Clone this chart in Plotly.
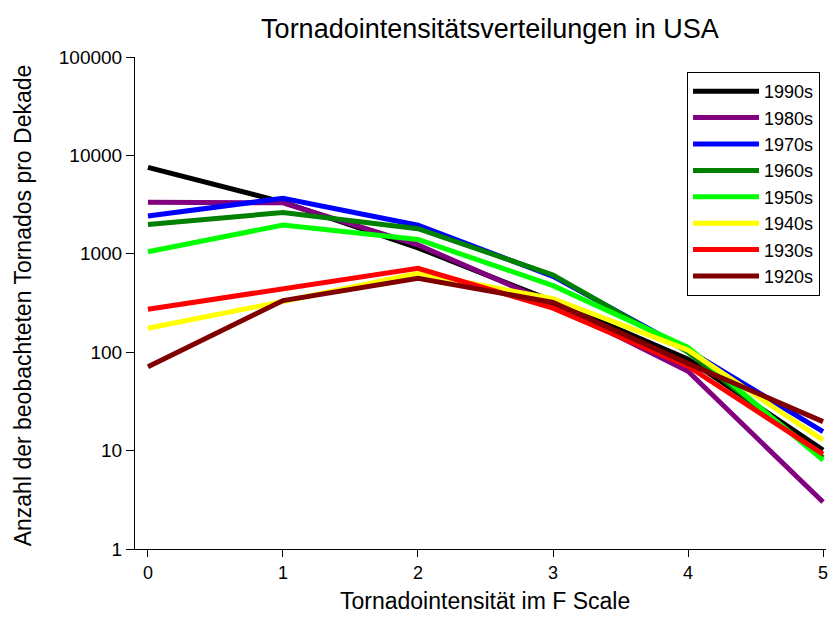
import plotly.graph_objects as go

intensity = [0, 1, 2, 3, 4, 5]
decades = ["1990s", "1980s", "1970s", "1960s", "1950s", "1940s", "1930s", "1920s"]
colors = ["#000000", "#800080", "#0000FF", "#008000", "#00FF00", "#FFFF00", "#FF0000", "#800000"]

v1990 = [7570, 3350, 1150, 330, 85, 10.1]
v1980 = [3340, 3300, 1230, 310, 64, 3.0]
v1970 = [2420, 3660, 1950, 590, 105, 15.6]
v1960 = [1980, 2630, 1800, 610, 100, 8.5]
v1950 = [1050, 1960, 1400, 475, 112, 8.0]
v1940 = [175, 328, 635, 350, 105, 12.8]
v1930 = [273, 446, 713, 280, 72, 9.2]
v1920 = [71, 335, 565, 320, 77, 19.7]

series = [v1990, v1980, v1970, v1960, v1950, v1940, v1930, v1920]

font = "Liberation Sans, Arial, sans-serif"

fig = go.Figure()
for name, col, vals in zip(decades, colors, series):
    fig.add_trace(go.Scatter(x=intensity, y=vals, mode="lines", name=name,
                             line=dict(color=col, width=5)))

fig.update_layout(
    width=828, height=628,
    margin=dict(l=135, r=0, t=57, b=79),
    plot_bgcolor="white", paper_bgcolor="white",
    font=dict(family=font, size=18, color="black"),
    title=dict(text="Tornadointensitätsverteilungen in USA", x=490/828, xref="container",
               xanchor="center", y=1 - 29/628, yanchor="middle",
               font=dict(size=27, family=font, color="black")),
    xaxis=dict(range=[-0.096, 5.022], tickvals=intensity, ticktext=[str(i) for i in intensity],
               showgrid=False, zeroline=False, showline=True, linecolor="black", linewidth=1,
               ticks="outside", ticklen=7, tickcolor="black", tickfont=dict(size=18),
               ticklabeloverflow="allow"),
    yaxis=dict(type="log", range=[0, 5], tickvals=[1, 10, 100, 1000, 10000, 100000],
               ticktext=["1", "10", "100", "1000", "10000", "100000"],
               showgrid=False, zeroline=False, showline=True, linecolor="black", linewidth=1,
               ticks="outside", ticklen=8, tickcolor="black", tickfont=dict(size=19)),
    legend=dict(x=(822 - 135) / 693, xanchor="right", y=(549 - 72) / 492, yanchor="top",
                bordercolor="black", borderwidth=1, bgcolor="white",
                font=dict(size=18, family=font), tracegroupgap=0, itemwidth=66),
    showlegend=True,
    annotations=[
        dict(text="Tornadointensität im F Scale", xref="paper", yref="paper",
             x=(486 - 135) / 693, y=-(601 - 549) / 492, xanchor="center", yanchor="middle",
             showarrow=False, font=dict(size=23, family=font, color="black")),
        dict(text="Anzahl der beobachteten Tornados pro Dekade", xref="paper", yref="paper",
             x=-(135 - 23) / 693, y=(549 - 305) / 492, xanchor="center", yanchor="middle",
             textangle=-90, showarrow=False, font=dict(size=23, family=font, color="black")),
    ],
)

fig.write_html("out.html")
